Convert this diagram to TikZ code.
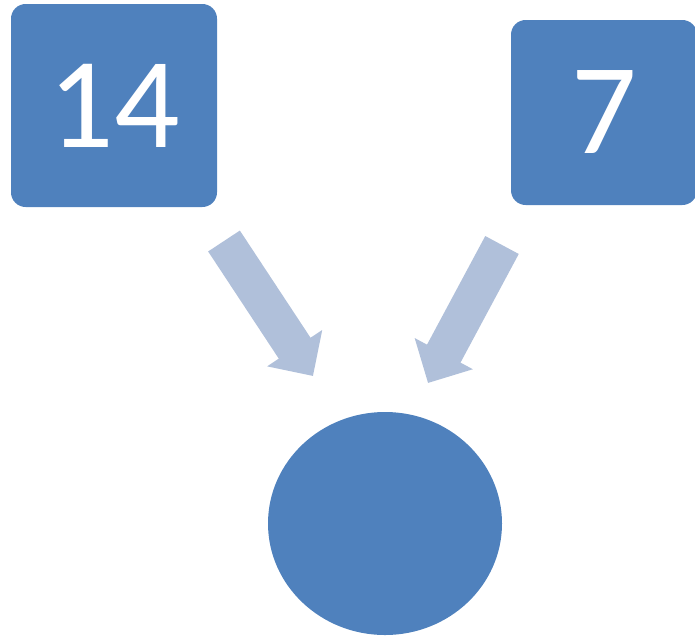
\documentclass[tikz,border=0pt]{standalone}
\usepackage{fontspec}
\setmainfont{Carlito}
\usetikzlibrary{positioning,arrows.meta,shapes.geometric}
\definecolor{boxblue}{HTML}{4F81BD}
\definecolor{arrowblue}{HTML}{B0C0DA}
\tikzset{
  numbox/.style   = {rectangle, rounded corners=11pt, fill=boxblue, text=white,
                     inner sep=0pt, font=\fontsize{97}{97}\selectfont},
  target/.style   = {ellipse, fill=boxblue, inner sep=0pt,
                     minimum width=175.5pt, minimum height=167.25pt},
  fatarrow/.style = {draw=arrowblue, line width=28.5pt,
                     -{Triangle[width=48pt,length=25pt]}}
}

\begin{document}
\begin{tikzpicture}[x=0.75pt,y=-0.75pt]
    \useasboundingbox (0,0) rectangle (695,636);

    % the two numbers
    \node[numbox, minimum width=154.5pt, minimum height=152.25pt] (n14) at (114,105.5) {14};
    \node[numbox, minimum width=139.5pt, minimum height=138.75pt] (n7)  at (604,112.5) {7};

    % the result
    \node[target] (res) at (385,523.5) {};

    % arrow ends
    \coordinate (t14) at (224,241);
    \coordinate (h14) at (313,376);
    \coordinate (t7)  at (502,245);
    \coordinate (h7)  at (428,383);

    \draw[fatarrow] (t14) -- (h14);
    \draw[fatarrow] (t7) -- (h7);
\end{tikzpicture}
\end{document}
